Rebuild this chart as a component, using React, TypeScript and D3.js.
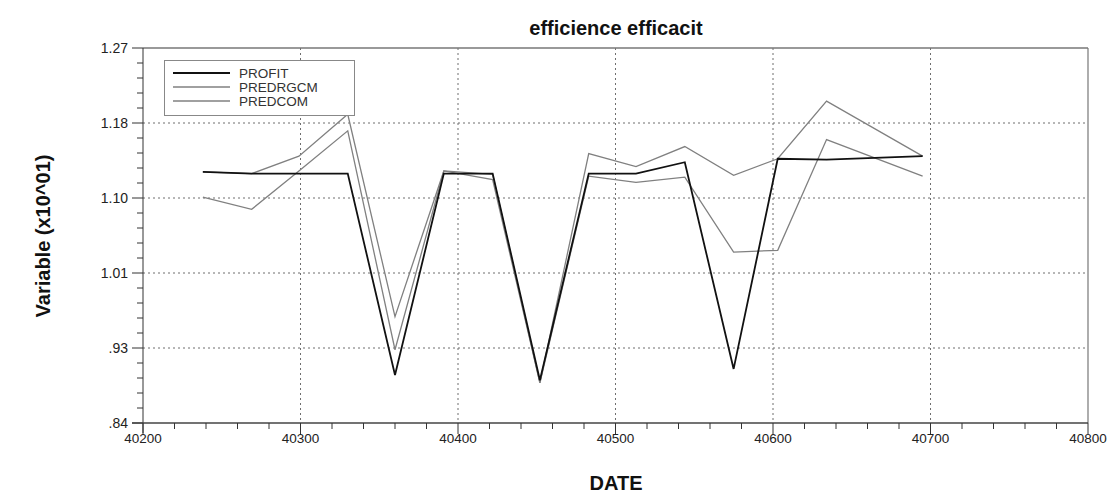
import * as d3 from "d3";

const dates = [40238, 40269, 40299, 40330, 40360, 40391, 40422, 40452, 40483, 40513, 40544, 40575, 40603, 40634, 40695];
const profit = [1.128, 1.126, 1.126, 1.126, 0.895, 1.126, 1.126, 0.889, 1.126, 1.126, 1.139, 0.902, 1.143, 1.142, 1.146];
const predrgcm = [1.099, 1.085, 1.129, 1.175, 0.924, 1.129, 1.119, 0.886, 1.123, 1.116, 1.122, 1.036, 1.038, 1.165, 1.123];
const predcom = [1.128, 1.126, 1.146, 1.194, 0.962, 1.129, 1.125, 0.886, 1.149, 1.134, 1.157, 1.124, 1.143, 1.209, 1.146];

const seriesNames = ["PROFIT", "PREDRGCM", "PREDCOM"];
const xTicks = [40200, 40300, 40400, 40500, 40600, 40700, 40800];
const yTickLabels = [".84", ".93", "1.01", "1.10", "1.18", "1.27"];

export default function App() {
  const width = 1111;
  const height = 497;
  const left = 143;
  const right = 1088;
  const top = 48;
  const bottom = 423;
  const font = "'Liberation Sans', Arial, sans-serif";
  const gridColor = "#6e6e6e";

  const xScale = d3.scaleLinear().domain([40200, 40800]).range([left, right]);
  const yScale = d3.scaleLinear().domain([0.84, 1.27]).range([bottom, top]);

  const yMajor = yTickLabels.map((_, i) => 0.84 + (i * (1.27 - 0.84)) / 5);
  const yMinor = d3.range(0, 26).map((i) => 0.84 + (i * (1.27 - 0.84)) / 25);
  const xMinor = d3.range(40200, 40801, 20);

  const series = [
    { name: seriesNames[0], values: profit, color: "#111", width: 1.8 },
    { name: seriesNames[1], values: predrgcm, color: "#808080", width: 1.3 },
    { name: seriesNames[2], values: predcom, color: "#808080", width: 1.3 },
  ];

  const line = d3
    .line<[number, number]>()
    .x((d) => xScale(d[0]))
    .y((d) => yScale(d[1]));

  return (
    <svg
      width={width}
      height={height}
      style={{ position: "absolute", left: 0, top: 0, background: "#fff" }}
      fontFamily={font}
    >
      {/* grid */}
      {xTicks.slice(1, -1).map((t) => (
        <line key={"gx" + t} x1={xScale(t)} x2={xScale(t)} y1={top} y2={bottom}
          stroke={gridColor} strokeDasharray="2,3" />
      ))}
      {yMajor.slice(1, -1).map((t, i) => (
        <line key={"gy" + i} x1={left} x2={right} y1={yScale(t)} y2={yScale(t)}
          stroke={gridColor} strokeDasharray="2,3" />
      ))}

      {/* frame */}
      <line x1={left} x2={right} y1={top} y2={top} stroke="#777" strokeWidth={1.5} />
      <line x1={right} x2={right} y1={top} y2={bottom} stroke="#777" strokeWidth={1.2} />

      {/* y axis */}
      <line x1={left} x2={left} y1={top} y2={bottom + 10} stroke="#333" />
      {yMinor.map((t, i) => (
        <line key={"ym" + i} x1={i % 5 === 0 ? left - 11 : left - 6} x2={left}
          y1={yScale(t)} y2={yScale(t)} stroke="#333" />
      ))}
      {yMajor.map((t, i) => (
        <text key={"yl" + i} x={left - 15} y={yScale(t)} dy="0.35em" textAnchor="end"
          fontSize={14} fill="#222">
          {yTickLabels[i]}
        </text>
      ))}

      {/* x axis */}
      <line x1={left - 11} x2={right} y1={bottom} y2={bottom} stroke="#444" strokeWidth={1.5} />
      {xMinor.map((t) => (
        <line key={"xm" + t} x1={xScale(t)} x2={xScale(t)} y1={bottom}
          y2={(t - 40200) % 100 === 0 ? bottom + 11 : bottom + 6} stroke="#333" />
      ))}
      {xTicks.map((t) => (
        <text key={"xl" + t} x={xScale(t)} y={bottom + 20} textAnchor="middle"
          fontSize={13.5} fill="#222">
          {t}
        </text>
      ))}

      {/* lines */}
      {series.slice().reverse().map((s) => (
        <path key={s.name}
          d={line(dates.map((d, i) => [d, s.values[i]] as [number, number])) || ""}
          fill="none" stroke={s.color} strokeWidth={s.width} strokeLinejoin="miter" />
      ))}

      {/* legend */}
      <rect x={164.5} y={60.5} width={190} height={55} fill="#fff" stroke="#888" />
      {series.map((s, i) => (
        <g key={"lg" + s.name} transform={`translate(0, ${73 + i * 14})`}>
          <line x1={173} x2={230} y1={0} y2={0} stroke={s.color} strokeWidth={s.width + 0.3} />
          <text x={239} y={0} dy="0.36em" fontSize={13.5} fill="#333">
            {s.name}
          </text>
        </g>
      ))}

      {/* titles */}
      <text x={616} y={35} textAnchor="middle" fontSize={20} fontWeight="bold" fill="#111">
        efficience efficacit
      </text>
      <text x={616} y={490} textAnchor="middle" fontSize={20} fontWeight="bold" fill="#111">
        DATE
      </text>
      <text transform="translate(50, 236) rotate(-90)" textAnchor="middle" fontSize={20}
        fontWeight="bold" fill="#111">
        Variable (x10^01)
      </text>
    </svg>
  );
}
